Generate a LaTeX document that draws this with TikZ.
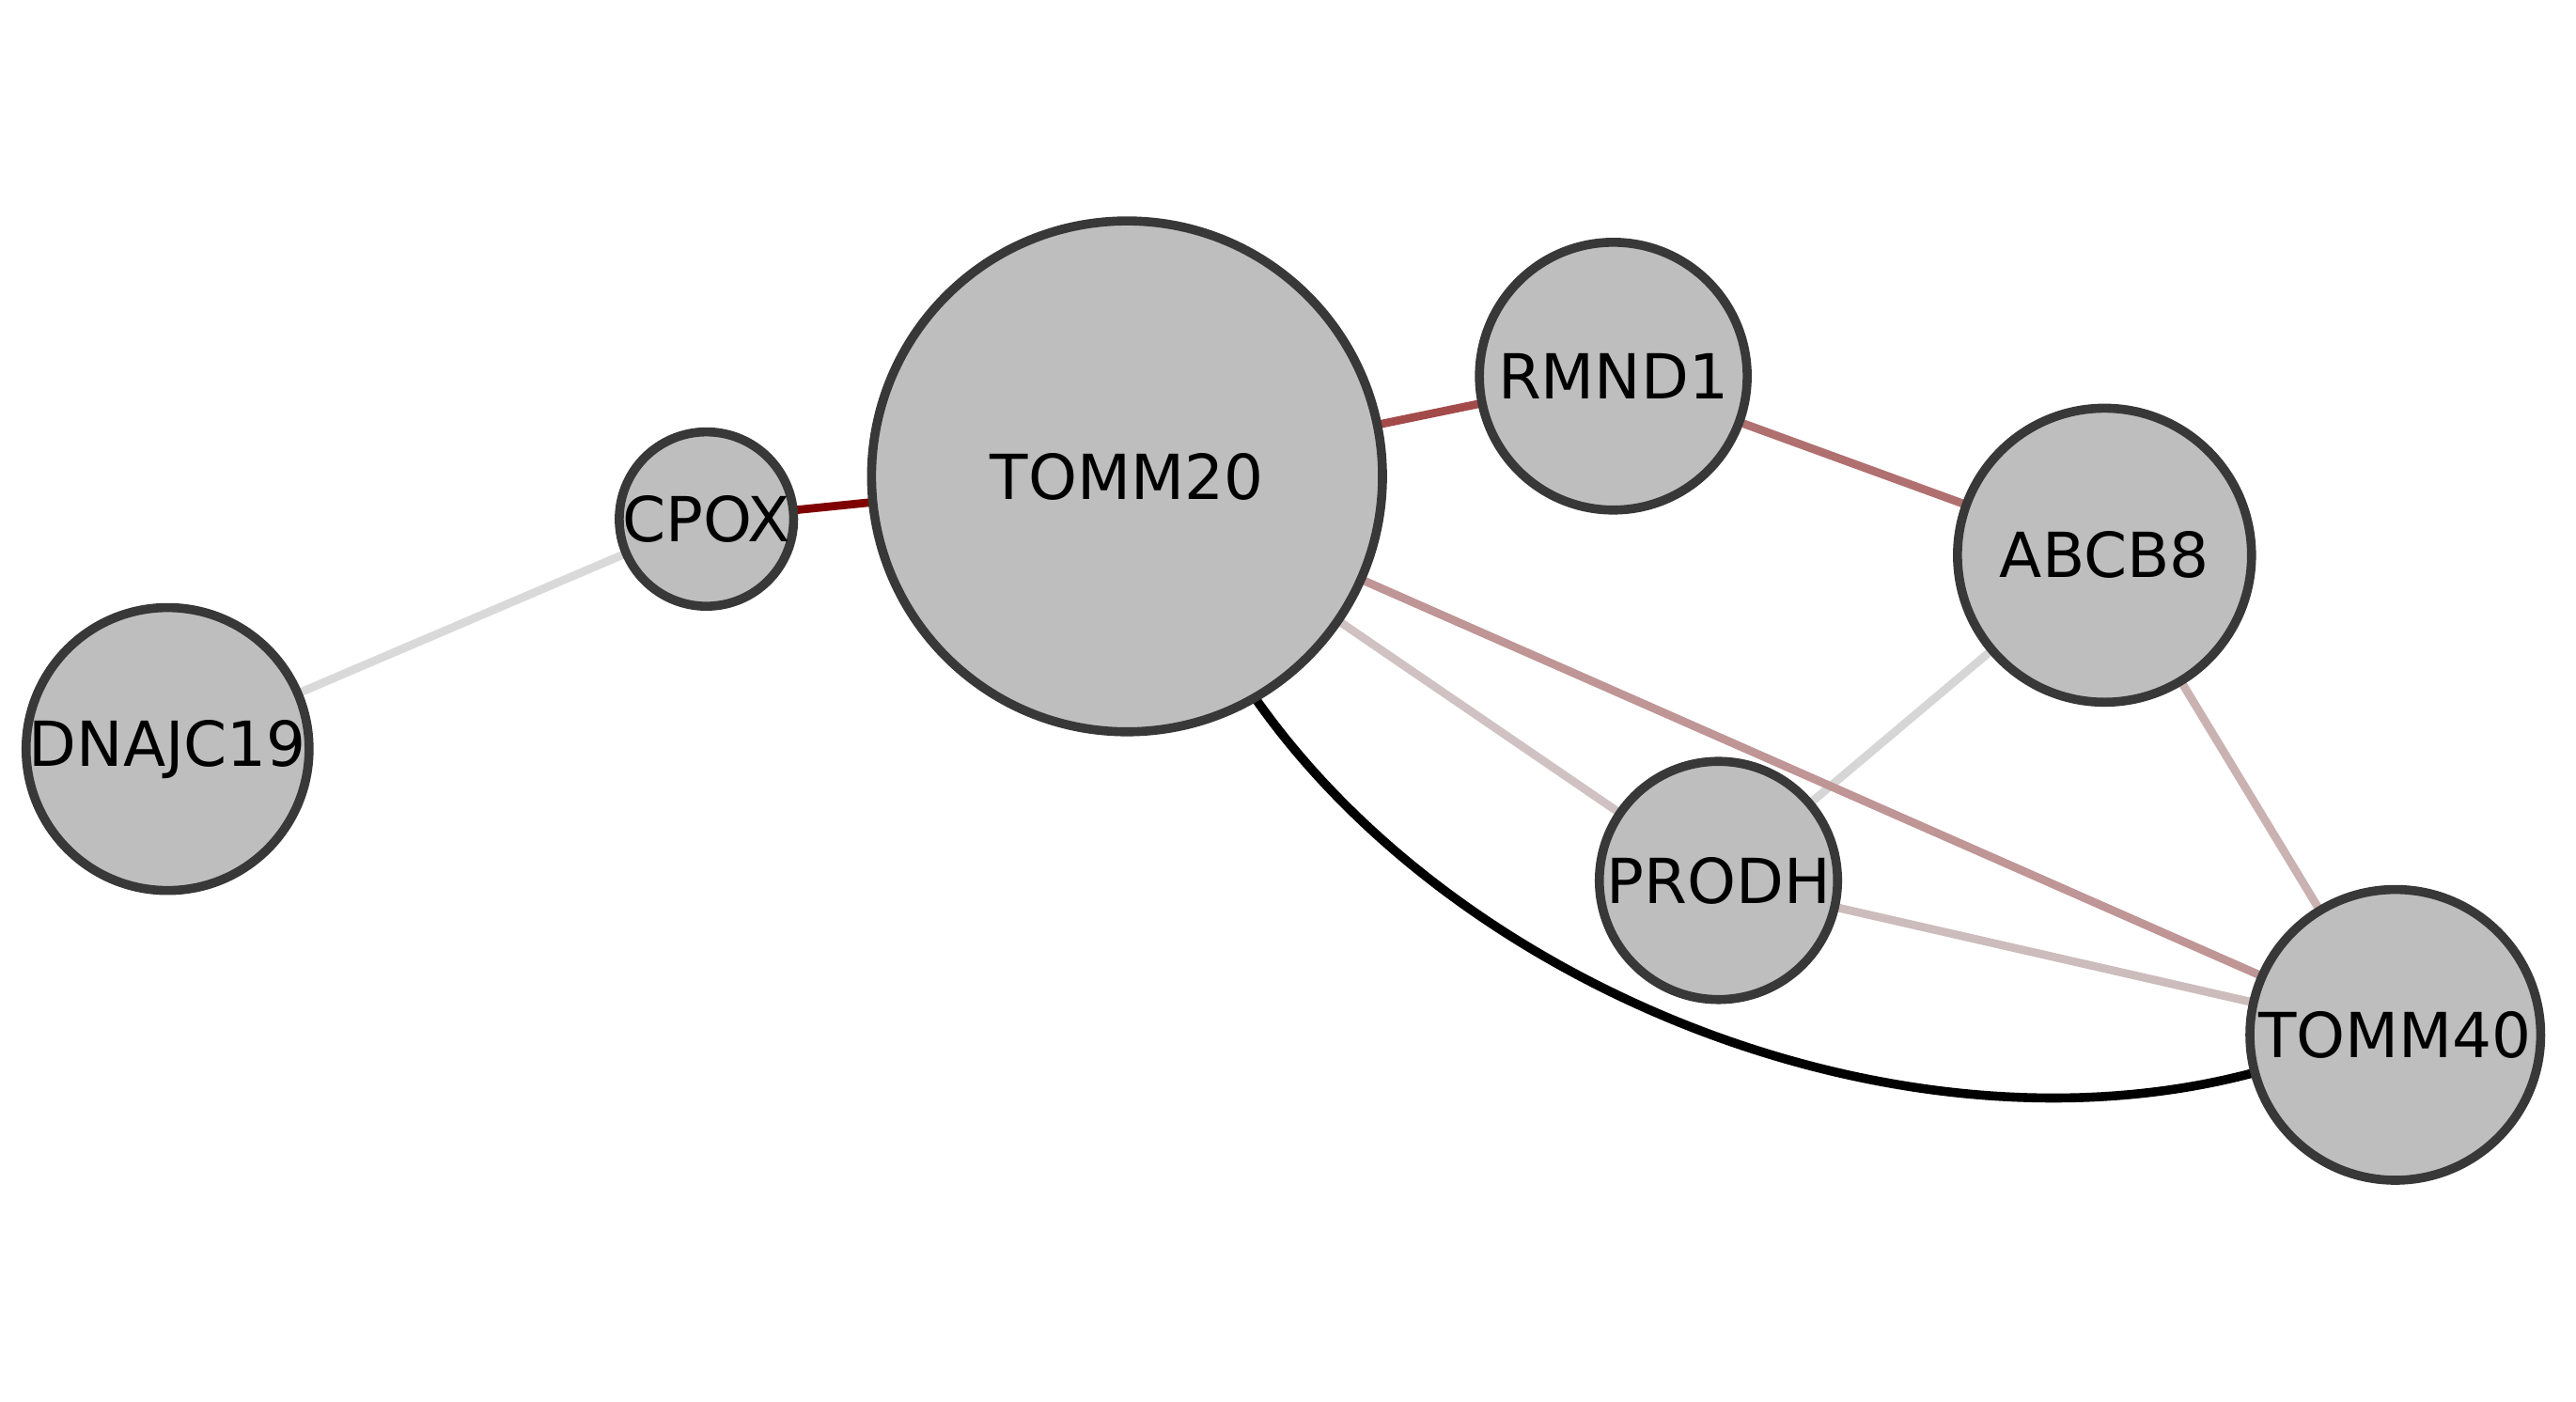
\documentclass[tikz,border=0pt]{standalone}
\usepackage{fontspec}
\setmainfont{DejaVu Sans}
\usetikzlibrary{backgrounds}
\definecolor{nodefill}{HTML}{BEBEBE}
\definecolor{nodeline}{HTML}{383838}
\definecolor{eA}{HTML}{800000}
\definecolor{eB}{HTML}{D9D9D9}
\definecolor{eC}{HTML}{A34A4A}
\definecolor{eD}{HTML}{B07070}
\definecolor{eE}{HTML}{BF9595}
\definecolor{eF}{HTML}{D0C2C2}
\definecolor{eG}{HTML}{D6D6D6}
\definecolor{eH}{HTML}{CBB2B2}
\definecolor{eI}{HTML}{CDBCBC}
\tikzset{
  gene/.style={circle, draw=nodeline, fill=nodefill, line width=5.5pt, inner sep=0pt, outer sep=0pt,
    font=\fontsize{37.8}{40}\selectfont, text=black},
  link/.style={line width=5pt},
}
\begin{document}
\begin{tikzpicture}[x=1pt,y=-1pt]
\useasboundingbox (0,0) rectangle (1568,853);
\node[gene, minimum size=311pt] (tomm20) at (686,290) {TOMM20};
\node[gene, minimum size=163pt] (rmnd1) at (982,229) {RMND1};
\node[gene, minimum size=179pt] (abcb8) at (1281,338) {ABCB8};
\node[gene, minimum size=103pt] (cpox) at (430,316) {CPOX};
\node[gene, minimum size=165pt] (dnajc19) at (102,456) {DNAJC19};
\node[gene, minimum size=145pt] (prodh) at (1046,536) {PRODH};
\node[gene, minimum size=177pt] (tomm40) at (1458,630) {TOMM40};
\begin{pgfonlayer}{background}
\draw[link, eB] (dnajc19) -- (cpox);
\draw[link, eA] (cpox) -- (tomm20);
\draw[link, eC] (tomm20) -- (rmnd1);
\draw[link, eD] (rmnd1) -- (abcb8);
\draw[link, eF] (tomm20) -- (prodh);
\draw[link, eG] (abcb8) -- (prodh);
\draw[link, eH] (abcb8) -- (tomm40);
\draw[link, eI] (prodh) -- (tomm40);
\draw[link, eE] (tomm20) -- (tomm40);
\draw[line width=5.5pt, black] (tomm20.-60) .. controls +(-55:220pt) and +(195:220pt) .. (tomm40.195);
\end{pgfonlayer}
\end{tikzpicture}
\end{document}
